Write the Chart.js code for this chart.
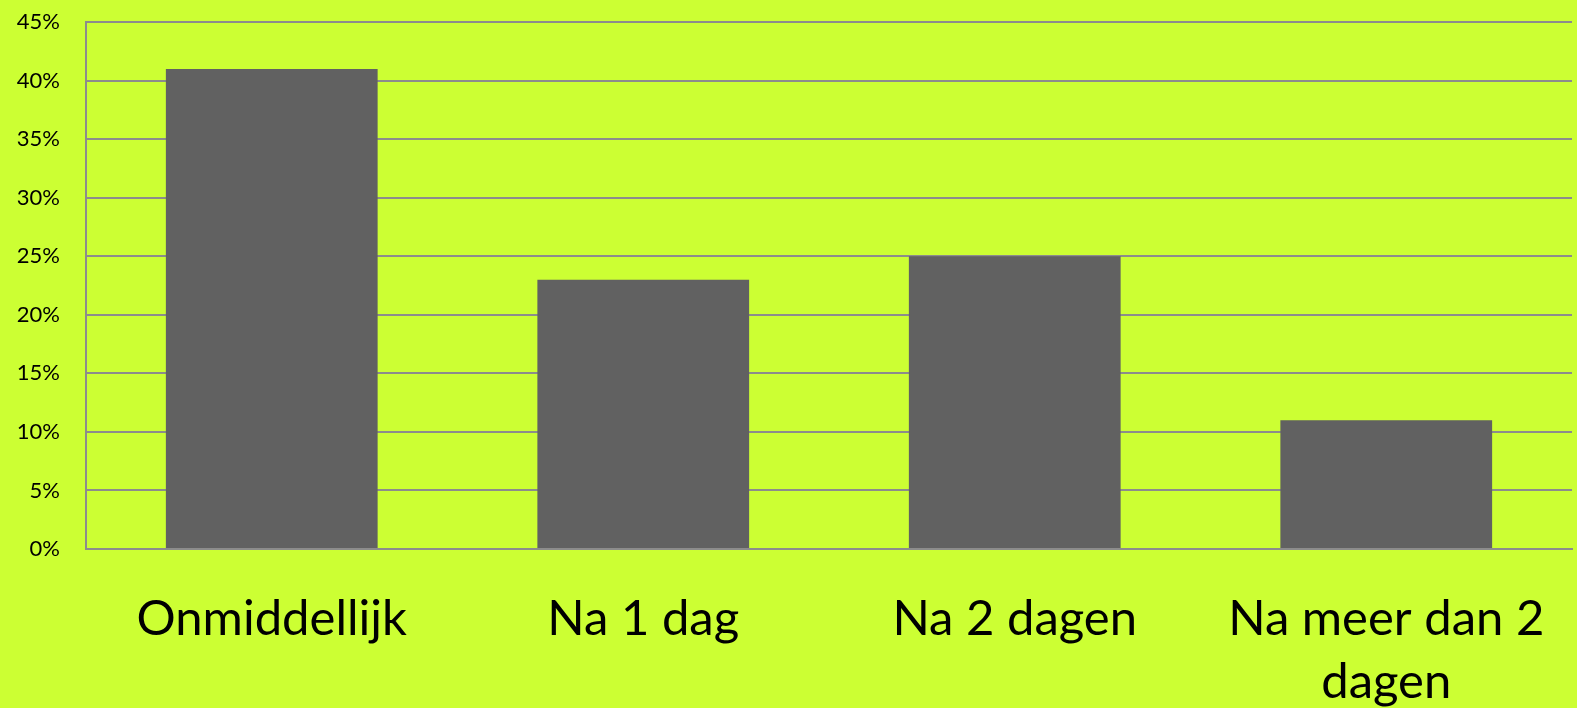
<!DOCTYPE html>
<html>
<head>
<meta charset="utf-8">
<script src="https://cdn.jsdelivr.net/npm/chart.js@4"></script>
<style>
  html, body { margin: 0; padding: 0; background: #ccff33; overflow: hidden; }
  #wrap { width: 1577px; height: 708px; position: relative; overflow: hidden; }
  #inner { position: absolute; left: 0; top: -17px; width: 1577px; height: 725px; }
</style>
</head>
<body>
<div id="wrap"><div id="inner"><canvas id="chart"></canvas></div></div>
<script>
// categories and values (percent)
const categories = ["Onmiddellijk", "Na 1 dag", "Na 2 dagen", ["Na meer dan 2", "dagen"]];
const percentages = [41, 23, 25, 11];

const gridColor = "#8c8c8c";

new Chart(document.getElementById("chart"), {
  type: "bar",
  data: {
    labels: categories,
    datasets: [{
      label: "Percentage",
      data: percentages,
      backgroundColor: "#616161",
      borderWidth: 0,
      barPercentage: 0.57,
      categoryPercentage: 1
    }]
  },
  options: {
    responsive: true,
    maintainAspectRatio: false,
    animation: false,
    layout: { padding: { top: 3, right: 5, left: 0, bottom: 0 } },
    plugins: {
      legend: { display: false },
      tooltip: { enabled: false }
    },
    scales: {
      x: {
        grid: { display: false, drawTicks: false },
        border: { color: gridColor, width: 2 },
        ticks: {
          color: "#000",
          font: { family: "Lato", size: 49, lineHeight: 1.3 },
          padding: 38,
          maxRotation: 0,
          autoSkip: false
        },
        afterFit: s => {
          s.height = 159;
          s.paddingLeft = 0;
          s.paddingRight = 0;
        }
      },
      y: {
        min: 0,
        max: 45,
        grid: { color: gridColor, lineWidth: 2, drawTicks: false },
        border: { color: gridColor, width: 2 },
        ticks: {
          stepSize: 5,
          color: "#000",
          font: { family: "Lato", size: 22 },
          padding: 26,
          callback: v => v + "%"
        },
        afterFit: s => { s.width = 86; }
      }
    }
  }
});
</script>
</body>
</html>
